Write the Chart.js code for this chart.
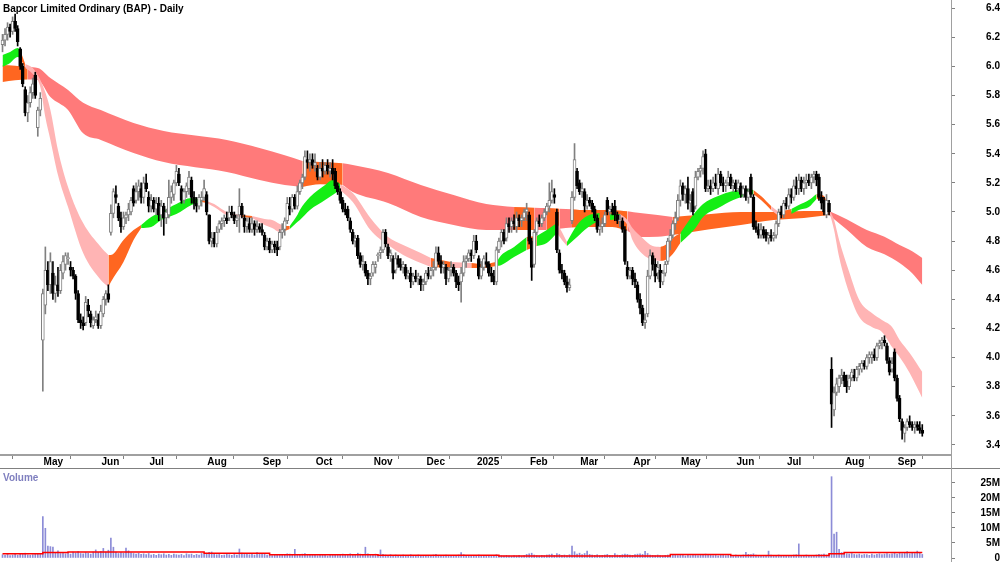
<!DOCTYPE html>
<html>
<head>
<meta charset="utf-8">
<script src="https://cdn.jsdelivr.net/npm/chart.js@4.4.1/dist/chart.umd.min.js"></script>
<style>
  html, body { margin: 0; padding: 0; background: #fff; }
  #wrap { position: relative; width: 1000px; height: 562px; overflow: hidden; background: #fff; }
  #cA { position: absolute; left: 0; top: 0; }
  #cB { position: absolute; left: 0; top: 469px; }
  .lbl { position: absolute; font-family: 'Liberation Sans', Arial, sans-serif; font-weight: bold; font-size: 10px; line-height: 12px; white-space: nowrap; }
  .hl { position: absolute; height: 1px; background: #808080; }
  .vl { position: absolute; width: 1px; background: #a0a0a0; }
</style>
</head>
<body>
<div id="wrap">
  <canvas id="cA" width="1000" height="469"></canvas>
  <canvas id="cB" width="1000" height="93"></canvas>
  <div class="hl" style="left:0; top:468px; width:1000px;"></div>
  <div class="vl" style="left:951px; top:0; height:562px;"></div>
  <div class="lbl" style="left:3px; top:3px; color:#000;">Bapcor Limited Ordinary (BAP) - Daily</div>
  <div class="lbl" style="left:3px; top:472px; color:#7f7fbf;">Volume</div>
</div>
<script>
// ---------------- DATA ----------------
const monthTickIdx = [15.5, 38.5, 57.5, 80.5, 102.5, 123.5, 146.5, 167.5, 187.5, 208.5, 228.5, 249.5, 268.5, 290.5, 310.5, 333.5, 354.5];
const monthLabels = ['May','Jun','Jul','Aug','Sep','Oct','Nov','Dec','2025','Feb','Mar','Apr','May','Jun','Jul','Aug','Sep'];
const priceTicks = [3.4,3.6,3.8,4.0,4.2,4.4,4.6,4.8,5.0,5.2,5.4,5.6,5.8,6.0,6.2,6.4];
const volTicks = [0,5,10,15,20,25];

const opens = [
6.15,6.18,6.22,6.27,6.24,6.31,6.26,6.12,6.00,5.84,
5.68,5.75,5.82,5.94,5.58,5.70,4.12,4.36,4.60,4.50,
4.58,4.44,4.50,4.46,4.58,4.64,4.68,4.62,4.60,4.56,
4.44,4.26,4.24,4.24,4.36,4.30,4.22,4.26,4.26,4.22,
4.30,4.40,4.44,4.86,4.99,5.12,5.04,4.96,4.90,4.96,
4.98,5.00,5.16,5.08,5.14,5.16,5.10,5.20,5.10,5.04,
5.08,5.02,5.06,4.98,5.04,4.96,4.98,5.10,5.12,5.20,
5.26,5.16,5.08,5.14,5.16,5.22,5.10,5.06,5.04,5.08,
5.10,5.12,4.98,4.80,4.82,4.78,4.88,4.92,4.94,4.96,
4.96,5.00,4.98,4.94,4.98,5.04,4.96,4.90,4.92,4.88,
4.92,4.88,4.90,4.88,4.84,4.76,4.80,4.74,4.78,4.76,
4.76,4.86,4.88,4.94,5.04,5.02,5.10,5.04,5.14,5.20,
5.24,5.36,5.34,5.36,5.32,5.30,5.24,5.30,5.28,5.32,
5.28,5.30,5.28,5.18,5.14,5.08,5.02,5.02,4.94,4.86,
4.80,4.82,4.70,4.64,4.64,4.58,4.54,4.58,4.62,4.70,
4.72,4.74,4.86,4.76,4.70,4.68,4.60,4.68,4.64,4.62,
4.62,4.56,4.58,4.52,4.56,4.54,4.54,4.50,4.52,4.58,
4.56,4.60,4.62,4.72,4.66,4.62,4.62,4.54,4.60,4.62,
4.58,4.52,4.52,4.58,4.66,4.68,4.72,4.70,4.80,4.68,
4.56,4.62,4.66,4.64,4.58,4.56,4.52,4.74,4.80,4.86,
4.82,4.92,4.90,4.94,4.90,4.96,4.94,4.96,5.00,4.98,
4.80,4.64,4.86,4.94,4.92,4.96,5.00,5.04,5.08,5.12,
5.00,4.72,4.60,4.58,4.52,4.48,4.94,5.10,5.28,5.20,
5.14,5.14,5.04,5.08,5.06,5.02,4.96,4.88,4.90,4.92,
5.08,5.00,5.02,5.04,4.98,4.94,4.94,4.88,4.62,4.56,
4.60,4.54,4.50,4.40,4.34,4.24,4.30,4.56,4.70,4.64,
4.58,4.60,4.52,4.58,4.66,4.80,4.84,4.92,4.96,5.08,
5.18,5.12,5.16,5.06,5.14,5.04,5.24,5.28,5.30,5.40,
5.16,5.18,5.16,5.20,5.16,5.26,5.20,5.18,5.20,5.24,
5.18,5.20,5.16,5.18,5.12,5.16,5.10,5.24,5.10,4.90,
4.88,4.84,4.88,4.86,4.82,4.84,4.82,4.84,4.92,5.00,
4.98,5.06,5.04,5.12,5.10,5.18,5.16,5.22,5.16,5.20,
5.22,5.20,5.24,5.26,5.24,5.10,5.08,4.98,5.06,3.92,
3.64,3.76,3.80,3.86,3.88,3.84,3.80,3.86,3.88,3.86,
3.92,3.92,3.96,3.94,4.00,4.00,4.02,4.00,4.08,4.10,
4.12,4.08,3.98,3.92,4.04,3.86,3.72,3.56,3.48,3.52,
3.56,3.54,3.52,3.54,3.52,3.50];

const highs = [
6.22,6.26,6.30,6.29,6.34,6.36,6.28,6.13,6.02,5.86,
5.80,5.86,5.92,5.96,5.72,5.82,4.47,4.76,4.66,4.72,
4.66,4.56,4.62,4.64,4.70,4.72,4.72,4.66,4.62,4.57,
4.46,4.30,4.28,4.42,4.40,4.32,4.28,4.32,4.30,4.36,
4.42,4.46,4.50,5.05,5.16,5.18,5.06,5.00,5.00,5.00,
5.06,5.10,5.18,5.20,5.22,5.20,5.24,5.26,5.14,5.12,
5.10,5.10,5.10,5.08,5.06,5.02,5.22,5.18,5.22,5.32,
5.30,5.18,5.16,5.20,5.28,5.24,5.14,5.10,5.12,5.14,
5.22,5.14,4.98,4.86,4.86,4.90,4.94,4.96,4.98,5.00,
5.04,5.04,5.00,4.98,5.16,5.06,4.98,4.96,4.96,4.96,
4.94,4.94,4.92,4.92,4.86,4.82,4.82,4.80,4.80,4.80,
4.88,4.92,4.96,5.10,5.10,5.12,5.12,5.18,5.22,5.26,
5.42,5.42,5.40,5.40,5.40,5.32,5.34,5.36,5.34,5.36,
5.34,5.36,5.30,5.20,5.16,5.10,5.06,5.04,4.96,4.88,
4.84,4.84,4.72,4.70,4.66,4.60,4.58,4.66,4.66,4.72,
4.76,4.88,4.88,4.78,4.74,4.70,4.72,4.70,4.68,4.66,
4.64,4.60,4.62,4.58,4.60,4.58,4.56,4.54,4.60,4.62,
4.62,4.66,4.76,4.76,4.70,4.66,4.64,4.62,4.66,4.64,
4.60,4.56,4.62,4.70,4.70,4.74,4.74,4.84,4.84,4.70,
4.66,4.70,4.72,4.66,4.62,4.60,4.76,4.82,4.88,4.88,
4.96,4.96,4.96,4.98,5.00,4.98,4.98,5.02,5.06,5.00,
4.82,4.88,4.96,4.98,4.98,5.02,5.06,5.20,5.22,5.16,
5.02,4.74,4.64,4.60,4.56,4.54,5.14,5.47,5.30,5.22,
5.20,5.16,5.12,5.10,5.08,5.04,4.98,4.94,4.96,5.00,
5.10,5.04,5.06,5.08,5.00,4.98,4.96,4.90,4.66,4.62,
4.62,4.58,4.52,4.44,4.36,4.30,4.60,4.74,4.72,4.68,
4.66,4.64,4.60,4.66,4.82,4.88,4.94,5.00,5.12,5.22,
5.20,5.18,5.24,5.12,5.16,5.28,5.30,5.32,5.42,5.43,
5.22,5.22,5.24,5.26,5.30,5.28,5.24,5.22,5.28,5.26,
5.22,5.22,5.22,5.20,5.18,5.18,5.16,5.26,5.12,4.94,
4.92,4.92,4.90,4.88,4.86,4.88,4.86,4.94,5.02,5.04,
5.08,5.10,5.16,5.16,5.22,5.24,5.26,5.24,5.24,5.26,
5.26,5.26,5.28,5.28,5.26,5.14,5.10,5.12,5.08,4.00,
3.80,3.86,3.88,3.92,3.90,3.88,3.88,3.92,3.92,3.94,
3.96,3.98,3.98,4.02,4.04,4.04,4.06,4.10,4.12,4.14,
4.15,4.10,4.00,4.00,4.06,3.88,3.74,3.58,3.54,3.58,
3.60,3.56,3.56,3.56,3.56,3.54];

const lows = [
6.10,6.14,6.18,6.20,6.22,6.24,6.14,5.98,5.86,5.66,
5.62,5.72,5.78,5.78,5.52,5.66,3.77,4.30,4.46,4.44,
4.40,4.38,4.42,4.44,4.54,4.60,4.64,4.56,4.54,4.40,
4.24,4.20,4.19,4.22,4.28,4.21,4.20,4.24,4.20,4.20,
4.28,4.36,4.38,4.84,4.96,5.06,4.94,4.86,4.88,4.92,
4.94,4.98,5.04,5.06,5.08,5.06,5.06,5.14,5.00,5.00,
5.00,4.98,4.94,4.90,4.84,4.92,4.96,5.06,5.08,5.18,
5.18,5.06,5.06,5.10,5.12,5.06,5.02,5.00,5.02,5.04,
5.08,4.98,4.78,4.76,4.76,4.76,4.86,4.88,4.90,4.92,
4.94,4.96,4.92,4.90,4.86,4.96,4.86,4.86,4.86,4.86,
4.84,4.86,4.86,4.84,4.74,4.74,4.72,4.72,4.72,4.70,
4.74,4.82,4.84,4.92,4.98,5.00,5.02,5.02,5.12,5.16,
5.22,5.30,5.28,5.30,5.28,5.22,5.22,5.24,5.26,5.26,
5.24,5.22,5.16,5.12,5.06,5.00,4.98,4.94,4.86,4.78,
4.76,4.68,4.62,4.60,4.56,4.50,4.50,4.56,4.58,4.66,
4.68,4.72,4.76,4.68,4.66,4.54,4.58,4.62,4.60,4.58,
4.54,4.54,4.48,4.50,4.52,4.50,4.46,4.46,4.50,4.54,
4.54,4.56,4.60,4.64,4.58,4.58,4.50,4.52,4.56,4.56,
4.48,4.46,4.38,4.56,4.62,4.66,4.66,4.68,4.72,4.54,
4.54,4.60,4.62,4.56,4.52,4.50,4.50,4.72,4.76,4.78,
4.80,4.86,4.86,4.88,4.86,4.90,4.90,4.94,4.94,4.78,
4.53,4.62,4.84,4.90,4.90,4.94,4.98,5.00,5.06,5.06,
4.72,4.58,4.54,4.50,4.45,4.46,4.92,5.08,5.16,5.12,
5.10,5.00,5.02,5.04,5.00,4.94,4.86,4.84,4.86,4.90,
4.98,4.98,4.98,4.94,4.92,4.90,4.86,4.64,4.54,4.54,
4.50,4.48,4.38,4.30,4.22,4.20,4.28,4.54,4.60,4.52,
4.54,4.48,4.50,4.56,4.64,4.74,4.82,4.88,4.94,5.04,
5.08,5.06,5.02,5.00,4.98,5.02,5.22,5.24,5.26,5.14,
5.14,5.12,5.14,5.16,5.12,5.18,5.14,5.14,5.18,5.16,
5.14,5.14,5.14,5.10,5.10,5.08,5.06,5.10,4.88,4.86,
4.82,4.82,4.82,4.80,4.78,4.80,4.80,4.82,4.90,4.96,
4.96,5.02,5.02,5.06,5.08,5.12,5.12,5.14,5.12,5.16,
5.18,5.16,5.20,5.18,5.08,5.02,4.98,4.96,4.98,3.52,
3.60,3.74,3.76,3.82,3.80,3.76,3.78,3.84,3.84,3.84,
3.88,3.90,3.92,3.92,3.96,3.96,3.98,3.98,4.06,4.06,
4.08,3.96,3.88,3.90,3.84,3.70,3.56,3.44,3.42,3.50,
3.52,3.50,3.48,3.50,3.48,3.46];

const closes = [
6.18,6.22,6.27,6.24,6.31,6.26,6.17,6.00,5.88,5.68,
5.75,5.82,5.88,5.80,5.70,5.78,4.44,4.60,4.50,4.66,
4.44,4.50,4.46,4.60,4.66,4.70,4.68,4.60,4.56,4.44,
4.26,4.24,4.22,4.38,4.32,4.24,4.26,4.28,4.22,4.32,
4.40,4.44,4.40,4.99,5.14,5.10,4.96,4.90,4.96,4.98,
5.02,5.08,5.06,5.14,5.18,5.10,5.20,5.16,5.04,5.08,
5.02,5.06,4.98,5.04,4.96,5.00,5.10,5.14,5.20,5.28,
5.20,5.08,5.14,5.18,5.24,5.10,5.06,5.04,5.10,5.10,
5.16,5.00,4.80,4.82,4.78,4.86,4.92,4.94,4.96,4.94,
5.00,4.98,4.94,4.96,5.04,4.98,4.90,4.94,4.88,4.92,
4.88,4.90,4.88,4.86,4.76,4.80,4.74,4.78,4.76,4.74,
4.86,4.88,4.94,5.06,5.02,5.10,5.04,5.14,5.20,5.24,
5.38,5.34,5.36,5.32,5.34,5.24,5.30,5.28,5.32,5.28,
5.30,5.26,5.18,5.14,5.08,5.02,5.00,4.96,4.88,4.80,
4.82,4.70,4.64,4.66,4.58,4.54,4.56,4.64,4.64,4.70,
4.74,4.86,4.78,4.70,4.72,4.58,4.68,4.64,4.62,4.64,
4.56,4.58,4.52,4.56,4.54,4.56,4.50,4.52,4.58,4.56,
4.60,4.62,4.72,4.66,4.62,4.64,4.54,4.60,4.62,4.58,
4.52,4.50,4.58,4.66,4.68,4.72,4.70,4.80,4.74,4.56,
4.62,4.68,4.64,4.58,4.56,4.52,4.74,4.80,4.86,4.80,
4.92,4.90,4.94,4.92,4.96,4.94,4.96,5.00,5.02,4.80,
4.62,4.86,4.94,4.92,4.96,5.00,5.04,5.08,5.14,5.10,
4.74,4.60,4.58,4.52,4.48,4.50,5.10,5.36,5.18,5.14,
5.16,5.04,5.08,5.06,5.02,4.96,4.88,4.90,4.92,4.98,
5.00,5.02,5.00,4.98,4.94,4.94,4.88,4.66,4.56,4.60,
4.54,4.52,4.40,4.34,4.24,4.26,4.56,4.70,4.64,4.56,
4.62,4.52,4.58,4.64,4.80,4.84,4.92,4.96,5.08,5.18,
5.12,5.16,5.06,5.08,5.00,5.24,5.28,5.30,5.38,5.16,
5.18,5.16,5.20,5.18,5.26,5.20,5.18,5.20,5.24,5.18,
5.20,5.16,5.20,5.12,5.16,5.10,5.14,5.12,4.90,4.88,
4.84,4.88,4.84,4.82,4.84,4.82,4.84,4.92,5.00,4.98,
5.06,5.04,5.12,5.10,5.18,5.16,5.22,5.16,5.20,5.22,
5.20,5.24,5.26,5.22,5.10,5.06,5.00,5.08,5.00,3.68,
3.76,3.82,3.86,3.88,3.84,3.80,3.86,3.90,3.86,3.92,
3.94,3.96,3.94,4.00,4.02,4.02,4.00,4.08,4.10,4.12,
4.10,3.98,3.90,3.96,3.86,3.72,3.58,3.50,3.52,3.56,
3.54,3.52,3.54,3.52,3.50,3.48];

// volume in millions
const volumes = [
1.1,0.9,1.2,0.8,1.0,1.3,0.9,1.4,1.2,1.6,
1.0,0.9,1.1,1.3,1.5,1.2,13.8,9.9,4.0,3.8,
3.6,1.8,2.4,1.5,1.9,1.4,1.6,1.3,2.0,1.7,
2.1,1.5,1.4,1.8,1.6,1.3,2.0,2.7,1.9,2.2,
3.2,2.0,2.6,6.6,3.6,2.0,1.5,1.8,1.6,3.3,
2.4,1.7,1.5,1.3,1.6,1.2,1.4,1.1,1.5,1.0,
1.2,0.9,1.3,1.1,1.4,1.0,1.2,0.9,1.3,1.1,
1.0,1.2,0.8,1.4,1.1,1.3,0.9,1.2,1.0,1.5,
1.3,1.6,1.9,2.0,1.4,1.1,1.2,0.9,1.0,1.3,
1.1,0.9,1.2,1.0,3.0,1.6,1.2,1.4,1.1,1.3,
1.0,1.8,1.2,1.5,1.3,1.0,1.1,0.8,1.0,0.9,
1.2,1.0,1.1,1.4,1.3,1.2,2.9,1.2,1.0,1.3,
1.5,1.1,0.9,1.0,1.2,0.8,1.0,0.9,1.1,0.7,
0.9,1.0,1.2,1.1,0.9,1.3,1.0,1.1,1.4,1.2,
1.0,1.6,1.3,1.2,3.6,1.4,1.1,1.0,1.3,0.9,
2.7,1.2,1.0,0.9,1.1,0.8,1.0,0.9,0.7,1.0,
0.8,0.9,1.1,0.7,0.8,1.0,0.9,0.8,0.7,0.9,
0.8,1.0,1.2,0.9,0.7,0.8,1.0,0.6,0.8,0.7,
0.9,1.0,1.8,1.1,0.8,0.7,0.6,0.8,0.9,1.0,
0.8,0.7,0.9,0.6,0.8,0.7,1.1,0.9,0.8,0.7,
0.9,0.7,0.6,0.8,0.7,0.9,0.6,0.8,1.2,1.4,
1.6,1.0,0.8,0.7,0.9,0.8,1.0,1.1,1.3,0.9,
1.5,1.2,0.9,1.0,0.8,1.1,4.0,2.1,1.3,1.6,
1.1,1.5,2.3,1.2,1.0,0.9,1.1,0.8,0.9,1.0,
1.2,0.9,0.8,1.5,1.0,0.9,1.1,1.3,1.2,1.0,
0.9,1.1,1.3,1.4,1.2,2.2,1.5,1.0,0.9,0.8,
1.0,0.8,0.7,0.9,1.0,0.8,0.9,1.1,0.8,1.0,
0.9,0.7,1.2,0.8,0.9,1.0,0.8,0.9,1.1,1.3,
1.0,0.9,0.8,1.0,0.7,0.9,1.1,0.8,0.9,0.7,
0.8,1.0,0.9,0.8,1.0,1.9,1.2,1.1,1.4,1.0,
0.9,0.8,0.7,0.9,2.3,1.0,0.8,0.9,1.0,0.7,
0.8,0.9,0.7,0.8,1.0,1.1,4.7,0.9,0.8,1.0,
0.7,0.9,0.8,1.0,1.2,1.1,1.3,1.0,1.4,27.1,
8.0,8.6,2.9,1.8,1.6,1.4,1.3,1.5,1.2,1.1,
1.3,1.0,1.2,1.1,0.9,1.3,1.0,1.2,1.4,1.1,
1.3,1.5,1.2,1.4,1.6,1.3,1.8,1.5,1.7,2.1,
1.4,1.6,1.5,2.3,1.8,1.2];

// volume average (stepped), millions
const volAvgIdx = [0, 16, 26, 80, 106, 149, 197, 265, 289, 328, 334, 365];
const volAvgVal = [1.4, 1.8, 2.0, 1.6, 1.1, 0.9, 0.7, 1.2, 0.8, 1.4, 1.8, 1.8];

// long-term ribbon edges
const longIdx = [0,5,10,14,19,26,32,39,52,64,89,102,112,119,126,135,139,153,166,179,192,203,211,216,221,226,229,242,248,253,260,266,280,293,306,318,328,335,343,350,356,361,365];
const longUpper = [6.01,6.005,5.995,5.989,5.92,5.838,5.75,5.70,5.611,5.556,5.495,5.44,5.39,5.35,5.343,5.335,5.323,5.268,5.185,5.117,5.055,5.034,5.03,5.027,5.022,5.018,5.014,5.014,5.005,4.993,4.98,4.966,4.985,5.0,5.0,5.007,5.007,4.95,4.876,4.83,4.773,4.73,4.684];
const longLower = [5.893,5.905,5.91,5.907,5.79,5.70,5.54,5.495,5.405,5.343,5.275,5.22,5.185,5.172,5.19,5.185,5.137,5.062,4.966,4.911,4.876,4.876,4.876,4.876,4.885,4.893,4.897,4.897,4.87,4.828,4.83,4.842,4.88,4.911,4.945,4.959,4.979,4.88,4.76,4.71,4.65,4.58,4.499];
const longSegments = [[0,10,'orange'],[10,119,'red'],[119,135,'orange'],[135,203,'red'],[203,211,'orange'],[211,216,'red'],[216,221,'orange'],[221,226,'red'],[226,248,'orange'],[248,266,'red'],[266,328,'orange'],[328,365,'red']];

// short-term ribbon edges
const shortIdx = [0,3,6,7,9,12,15,17,19,22,26,32,39,42,43,48,52,55,59,63,69,75,79,81,84,89,95,99,104,107,110,112,114,117,118,122,128,131,134,139,146,153,159,166,170,178,186,191,196,198,203,208,212,216,220,222,224,228,232,237,241,245,248,250,254,258,261,263,266,269,272,275,278,284,290,296,298,301,305,308,313,316,320,323,326,328,330,332,336,340,345,349,353,356,360,365];
const shortUpper = [6.078,6.099,6.126,6.113,6.016,5.989,5.907,5.82,5.70,5.426,5.172,4.924,4.760,4.705,4.705,4.808,4.876,4.911,4.966,5.0,5.055,5.096,5.082,5.076,5.055,5.0,4.979,4.973,4.952,4.945,4.918,4.904,4.904,4.979,5.014,5.103,5.185,5.22,5.192,5.13,4.959,4.828,4.773,4.718,4.684,4.657,4.65,4.643,4.657,4.705,4.76,4.828,4.835,4.876,4.924,4.863,4.794,4.911,4.973,4.993,4.986,4.986,4.945,4.89,4.822,4.766,4.76,4.773,4.822,4.856,4.931,5.0,5.055,5.11,5.144,5.158,5.151,5.11,5.041,5.0,5.021,5.048,5.082,5.124,5.11,5.021,4.945,4.808,4.588,4.396,4.306,4.258,4.21,4.121,4.032,3.901];
const shortLower = [5.996,6.023,6.064,6.058,5.989,5.948,5.858,5.65,5.495,5.254,5.034,4.718,4.533,4.485,4.52,4.657,4.808,4.89,4.897,4.945,4.986,5.048,5.069,5.062,5.034,4.979,4.966,4.959,4.911,4.89,4.863,4.87,4.883,4.931,4.945,5.014,5.082,5.117,5.151,5.069,4.876,4.773,4.705,4.65,4.622,4.615,4.615,4.615,4.629,4.636,4.691,4.739,4.766,4.787,4.856,4.808,4.766,4.828,4.89,4.945,4.945,4.952,4.911,4.808,4.712,4.67,4.663,4.67,4.712,4.787,4.835,4.89,4.966,5.027,5.082,5.117,5.124,5.082,5.014,4.973,4.986,5.014,5.034,5.089,5.076,5.007,4.876,4.691,4.444,4.279,4.21,4.176,4.073,4.004,3.894,3.723];
const shortSegments = [[0,7,'green'],[7,9,'orange'],[9,42,'pink'],[42,55,'orange'],[55,79,'green'],[79,81,'orange'],[81,95,'pink'],[95,99,'orange'],[99,112,'pink'],[112,114,'orange'],[114,134,'green'],[134,170,'pink'],[170,178,'orange'],[178,186,'pink'],[186,196,'orange'],[196,208,'green'],[208,212,'orange'],[212,220,'green'],[220,224,'pink'],[224,237,'green'],[237,241,'orange'],[241,245,'green'],[245,261,'pink'],[261,269,'orange'],[269,298,'green'],[298,305,'orange'],[305,308,'pink'],[308,313,'orange'],[313,323,'green'],[323,328,'orange'],[328,365,'pink']];

// ---------------- STYLE ----------------
const FONT = "'Liberation Sans', Arial, sans-serif";
const BAND_COLORS = { red: 'rgb(255,122,122)', orange: 'rgb(255,102,32)', green: 'rgb(20,238,20)', pink: 'rgb(255,180,180)' };
const X_MIN = -1, X_MAX = 376.4;
Chart.defaults.font.family = FONT;
Chart.defaults.animation = false;

function resetPad(s) { s.paddingTop = 0; s.paddingBottom = 0; s.paddingLeft = 0; s.paddingRight = 0; }

// ---------------- BUILD PRICE CHART ----------------
const dsA = [];
function addBand(idxArr, up, lo, segs, order) {
  segs.forEach(([a, b, c]) => {
    const ids = [];
    idxArr.forEach((x, i) => { if (x >= a && x <= b) ids.push(i); });
    dsA.push({ type: 'line', data: ids.map(i => ({ x: idxArr[i], y: lo[i] })), borderColor: 'rgba(0,0,0,0)', borderWidth: 0, pointRadius: 0, fill: false, order, cubicInterpolationMode: 'monotone' });
    dsA.push({ type: 'line', data: ids.map(i => ({ x: idxArr[i], y: up[i] })), borderColor: 'rgba(0,0,0,0)', borderWidth: 0, pointRadius: 0, fill: '-1', backgroundColor: BAND_COLORS[c], order, cubicInterpolationMode: 'monotone' });
  });
}
addBand(longIdx, longUpper, longLower, longSegments, 40);
addBand(shortIdx, shortUpper, shortLower, shortSegments, 30);

const n = closes.length;
const isUp = closes.map((c, i) => c >= opens[i]);
dsA.push({
  type: 'bar', order: 10, grouped: false, barThickness: 1,
  data: closes.map((c, i) => ({ x: i, y: [lows[i], highs[i]] })),
  backgroundColor: isUp.map(u => u ? '#808080' : '#000000'),
  borderWidth: 0
});
dsA.push({
  type: 'bar', order: 5, grouped: false, barThickness: 3, minBarLength: 1,
  data: closes.map((c, i) => ({ x: i, y: [Math.min(opens[i], c), Math.max(opens[i], c)] })),
  backgroundColor: isUp.map(u => u ? '#ffffff' : '#000000'),
  borderColor: isUp.map(u => u ? '#808080' : '#000000'),
  borderWidth: 1, borderSkipped: false
});

new Chart(document.getElementById('cA'), {
  type: 'bar',
  data: { datasets: dsA },
  options: {
    responsive: false, animation: false,
    layout: { padding: 0 },
    plugins: { legend: { display: false }, tooltip: { enabled: false }, title: { display: false } },
    scales: {
      x: {
        type: 'linear', min: X_MIN, max: X_MAX, offset: false,
        afterBuildTicks: s => { s.ticks = monthTickIdx.map(v => ({ value: v })); },
        ticks: { autoSkip: false, maxRotation: 0, minRotation: 0, align: 'start', labelOffset: 2, padding: -2.5,
                 font: { size: 10, weight: 'bold', family: FONT }, color: '#000',
                 callback: (v, i) => monthLabels[i] },
        grid: { display: true, drawOnChartArea: false, drawTicks: true, tickLength: 4, color: '#808080' },
        border: { display: true, color: '#a0a0a0', width: 2 },
        afterFit: s => { s.height = 14; resetPad(s); }
      },
      y: {
        type: 'linear', position: 'right', min: 3.331, max: 6.456,
        afterBuildTicks: s => { s.ticks = priceTicks.map(v => ({ value: v })); },
        ticks: { crossAlign: 'far', padding: 29, font: { size: 10, weight: 'bold', family: FONT }, color: '#000',
                 callback: v => Number(v).toFixed(1) },
        grid: { display: true, drawOnChartArea: false, drawTicks: true, tickLength: 4, color: '#808080' },
        border: { display: false },
        afterFit: s => { s.width = 49; resetPad(s); }
      }
    }
  }
});

// ---------------- BUILD VOLUME CHART ----------------
new Chart(document.getElementById('cB'), {
  type: 'bar',
  data: {
    datasets: [
      { type: 'line', order: 1, data: volAvgIdx.map((x, i) => ({ x, y: volAvgVal[i] })), stepped: true,
        borderColor: '#ff0000', borderWidth: 1.5, pointRadius: 0, fill: false },
      { type: 'bar', order: 5, grouped: false, barThickness: 1,
        data: volumes.map((v, i) => ({ x: i, y: v })), backgroundColor: 'rgb(140,140,215)', borderWidth: 0 }
    ]
  },
  options: {
    responsive: false, animation: false,
    layout: { padding: { top: 1, bottom: 4, left: 0, right: 0 } },
    plugins: { legend: { display: false }, tooltip: { enabled: false } },
    scales: {
      x: { type: 'linear', min: X_MIN, max: X_MAX, offset: false, display: false },
      y: {
        type: 'linear', position: 'right', min: 0, max: 29.33,
        afterBuildTicks: s => { s.ticks = volTicks.map(v => ({ value: v })); },
        ticks: { crossAlign: 'far', padding: 23.5, font: { size: 10, weight: 'bold', family: FONT }, color: '#000',
                 callback: v => v === 0 ? '0' : v + 'M' },
        grid: { display: true, drawOnChartArea: false, drawTicks: true, tickLength: 4, color: '#808080' },
        border: { display: false },
        afterFit: s => { s.width = 49; resetPad(s); }
      }
    }
  }
});
</script>
</body>
</html>
